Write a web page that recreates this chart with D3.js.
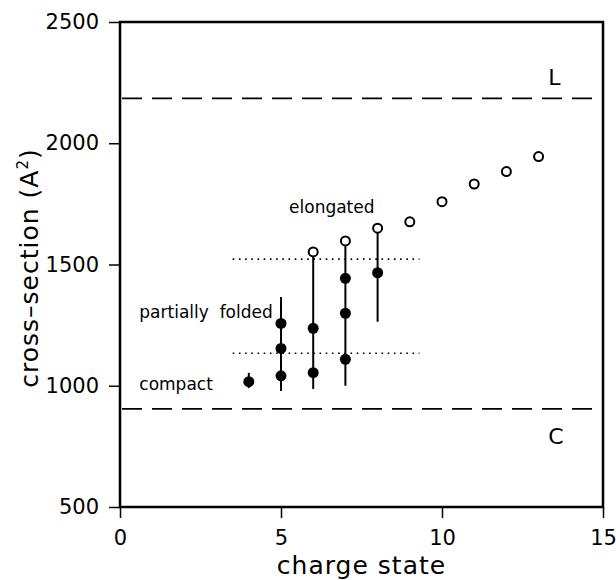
<!DOCTYPE html>
<html>
<head>
<meta charset="utf-8">
<script src="https://cdn.jsdelivr.net/npm/d3@7"></script>
<style>
  body { margin: 0; background: #fff; }
  svg { display: block; }
  text { font-family: "DejaVu Sans", sans-serif; fill: #000; }
</style>
</head>
<body>
<div class="grafica"></div>
<script>
// datos
var xTicks = [0, 5, 10, 15];
var yTicks = [500, 1000, 1500, 2000, 2500];

var filledCharge = [4, 5, 5, 5, 6, 6, 7, 7, 7, 8];
var filledSection = [1017, 1041, 1154, 1257, 1054, 1237, 1109, 1299, 1443, 1466];

var openCharge = [6, 7, 8, 9, 10, 11, 12, 13];
var openSection = [1552, 1597, 1650, 1676, 1759, 1832, 1883, 1945];

var barCharge = [4, 5, 6, 7, 8];
var barLow = [991, 978, 987, 1000, 1264];
var barHigh = [1053, 1366, 1552, 1597, 1650];

var dashedLevels = [2185, 905];
var dashedLabels = ["L", "C"];
var dottedLevels = [1522, 1134];
var dottedFrom = 3.5;
var dottedTo = 9.3;

var regionLabels = ["elongated", "partially  folded", "compact"];
var regionCharge = [5.25, 0.6, 0.6];
var regionSection = [1712, 1279, 982];

graficar();

function graficar() {
    var w = 616;
    var h = 580;

    var svg = d3.select('.grafica')
        .append('svg')
        .attr("width", w)
        .attr("height", h);

    var x = d3.scaleLinear().domain([0, 15]).range([120, 603]);
    var y = d3.scaleLinear().domain([500, 2500]).range([507, 22]);

    // ejes
    svg.append("g")
        .attr("transform", "translate(0," + y(500) + ")")
        .call(d3.axisBottom(x).tickValues(xTicks).tickFormat(d3.format("d"))
            .tickSize(11).tickSizeOuter(0).tickPadding(12))
        .call(function(g) {
            g.select(".domain").remove();
            g.selectAll("line").attr("stroke-width", 1.5);
            g.selectAll("text").style("font-size", "21px");
        });

    svg.append("g")
        .attr("transform", "translate(" + x(0) + ",0)")
        .call(d3.axisLeft(y).tickValues(yTicks).tickFormat(d3.format("d"))
            .tickSize(11).tickSizeOuter(0).tickPadding(10))
        .call(function(g) {
            g.select(".domain").remove();
            g.selectAll("line").attr("stroke-width", 1.5);
            g.selectAll("text").style("font-size", "21px");
        });

    // marco
    svg.append("rect")
        .attr("x", x(0))
        .attr("y", y(2500))
        .attr("width", x(15) - x(0))
        .attr("height", y(500) - y(2500))
        .attr("fill", "none")
        .attr("stroke", "#000")
        .attr("stroke-width", 2.5);

    // lineas de referencia
    svg.selectAll("line.dashed")
        .data(dashedLevels)
        .enter()
        .append("line")
        .attr("class", "dashed")
        .attr("x1", x(0) + 2)
        .attr("x2", x(14.7))
        .attr("y1", function(d) { return y(d); })
        .attr("y2", function(d) { return y(d); })
        .attr("stroke", "#000")
        .attr("stroke-width", 1.8)
        .attr("stroke-dasharray", "20,10");

    svg.selectAll("text.lvl")
        .data(dashedLevels)
        .enter()
        .append("text")
        .attr("class", "lvl")
        .attr("x", x(13.3))
        .attr("y", function(d, i) { return i == 0 ? y(d) - 13 : y(d) + 35; })
        .style("font-size", "22px")
        .text(function(d, i) { return dashedLabels[i]; });

    svg.selectAll("line.dotted")
        .data(dottedLevels)
        .enter()
        .append("line")
        .attr("class", "dotted")
        .attr("x1", x(dottedFrom))
        .attr("x2", x(dottedTo))
        .attr("y1", function(d) { return y(d); })
        .attr("y2", function(d) { return y(d); })
        .attr("stroke", "#000")
        .attr("stroke-width", 1.6)
        .attr("stroke-dasharray", "1.6,4.6");

    // barras de error
    svg.selectAll("line.bar")
        .data(barCharge)
        .enter()
        .append("line")
        .attr("class", "bar")
        .attr("x1", function(d) { return x(d); })
        .attr("x2", function(d) { return x(d); })
        .attr("y1", function(d, i) { return y(barLow[i]); })
        .attr("y2", function(d, i) { return y(barHigh[i]); })
        .attr("stroke", "#000")
        .attr("stroke-width", 2);

    svg.selectAll("circle.open")
        .data(openCharge)
        .enter()
        .append("circle")
        .attr("class", "open")
        .attr("cx", function(d) { return x(d); })
        .attr("cy", function(d, i) { return y(openSection[i]); })
        .attr("r", 4.5)
        .attr("fill", "#fff")
        .attr("stroke", "#000")
        .attr("stroke-width", 2);

    svg.selectAll("circle.filled")
        .data(filledCharge)
        .enter()
        .append("circle")
        .attr("class", "filled")
        .attr("cx", function(d) { return x(d); })
        .attr("cy", function(d, i) { return y(filledSection[i]); })
        .attr("r", 5.5)
        .attr("fill", "#000");

    svg.selectAll("text.region")
        .data(regionLabels)
        .enter()
        .append("text")
        .attr("class", "region")
        .attr("x", function(d, i) { return x(regionCharge[i]); })
        .attr("y", function(d, i) { return y(regionSection[i]); })
        .style("font-size", "17px")
        .style("white-space", "pre")
        .text(function(d) { return d; });

    // titulos de ejes
    svg.append("text")
        .attr("x", (x(0) + x(15)) / 2)
        .attr("y", 574)
        .attr("text-anchor", "middle")
        .style("font-size", "25px")
        .style("letter-spacing", "1px")
        .text("charge state");

    var yt = svg.append("text")
        .attr("transform", "translate(38," + 268 + ") rotate(-90)")
        .attr("text-anchor", "middle")
        .style("font-size", "25px")
        .style("letter-spacing", "1px");
    yt.append("tspan").text("cross\u2013section  (A");
    yt.append("tspan").attr("dy", -10).style("font-size", "15px").text("2");
    yt.append("tspan").attr("dy", 10).text(")");
}
</script>
</body>
</html>
